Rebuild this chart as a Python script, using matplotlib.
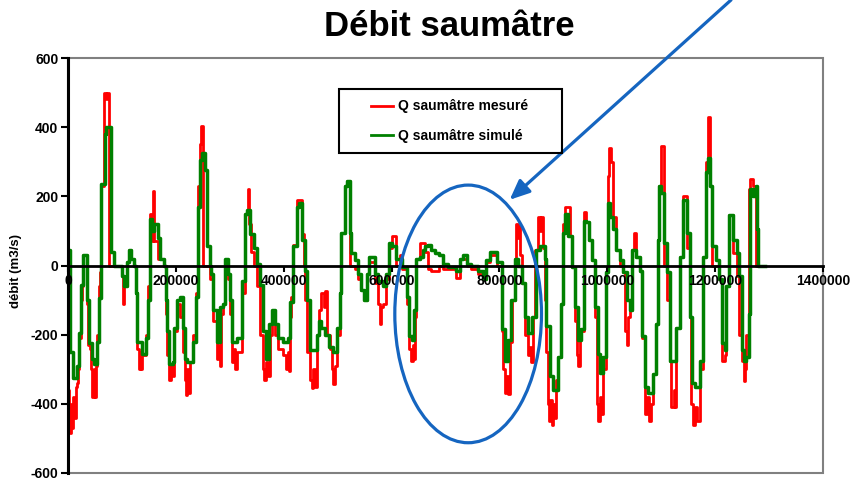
import numpy as np
import matplotlib
matplotlib.use('Agg')
import matplotlib.pyplot as plt
from matplotlib.patches import Rectangle, Ellipse
from matplotlib.lines import Line2D

plt.rcParams['font.family'] = ['Liberation Sans', 'DejaVu Sans']
plt.rcParams['font.weight'] = 'bold'
plt.rcParams['axes.unicode_minus'] = False

RED = '#FF0000'
GREEN = '#008000'
BLUE = '#1565C0'

# débit simulé : paliers (temps en milliers de s, débit m3/s)
sim_t = [0, 3, 9, 16, 20, 24, 27, 35, 39, 45, 49, 54, 57, 62, 68, 71, 79, 85,
         100, 104, 110, 113, 116, 122, 126, 128, 137, 144, 148, 152, 156, 160,
         166, 170, 178, 181, 184, 188, 194, 197, 203, 208, 214, 217, 220, 232,
         237, 241, 245, 248, 254, 257, 263, 266, 269, 276, 282, 287, 291, 297,
         300, 305, 313, 322, 328, 331, 337, 344, 350, 356, 361, 367, 373, 378,
         384, 390, 399, 408, 411, 417, 425, 429, 433, 439, 444, 449, 461, 466,
         470, 476, 484, 492, 498, 504, 507, 513, 518, 522, 525, 532, 538, 544,
         548, 554, 559, 569, 575, 584, 590, 595, 600, 609, 620, 629, 633, 637,
         641, 646, 652, 658, 662, 668, 674, 680, 688, 696, 705, 720, 727, 733,
         739, 748, 761, 770, 776, 782, 795, 804, 810, 816, 822, 829, 835, 841,
         847, 853, 860, 867, 875, 884, 886, 893, 900, 909, 915, 918, 921, 927,
         934, 940, 946, 952, 956, 960, 966, 971, 977, 983, 986, 992, 998, 1002,
         1005, 1011, 1017, 1023, 1029, 1036, 1042, 1045, 1054, 1060, 1065, 1070,
         1076, 1085, 1090, 1094, 1096, 1099, 1105, 1110, 1116, 1128, 1134, 1141,
         1147, 1153, 1158, 1162, 1172, 1178, 1183, 1187, 1190, 1195, 1201, 1207,
         1212, 1218, 1221, 1226, 1233, 1240, 1244, 1249, 1253, 1258, 1263, 1265,
         1270, 1275, 1278, 1280, 1292]
sim_q = [45, -250, -325, -290, -195, -55, 30, -100, -225, -270, -285, -220, -95,
         235, 380, 400, 40, 0, -30, -60, 10, 45, 20, 0, -80, -220, -255, -210,
         -100, 135, 100, 120, 80, 20, 0, -100, -190, -285, -280, -180, -100, -90,
         -180, -270, -280, -220, -90, 170, 305, 325, 275, 55, 0, -25, -130, -220,
         -120, -110, 20, -25, -100, -220, -210, -45, 150, 160, 90, 50, 5, -55,
         -190, -270, -170, -130, -170, -210, -220, -210, -105, 57, 170, 180, 75,
         -15, -100, -245, -200, -160, -180, -200, -235, -250, -180, -80, 95, 230,
         245, 95, 35, 15, -25, -70, -100, -25, 25, -25, -45, -60, -25, 65, 55,
         20, -5, -90, -205, -215, -130, 20, 25, 45, 55, 60, 45, 35, 30, 5, -5,
         -15, 20, 30, 5, 0, -15, -40, 15, 40, 10, -185, -275, -215, -100, 20, 0,
         -50, -150, -195, -150, 45, 55, 20, -175, -320, -360, -265, -110, 95,
         150, 85, -5, -120, -215, -185, 130, 125, 75, 15, -120, -255, -310, -265,
         -20, 180, 140, 105, 45, 15, -20, -100, -130, 45, 25, -15, -205, -350,
         -370, -315, -170, 75, 230, 210, 65, -20, -275, -180, 25, 190, 95, -150,
         -340, -350, -275, 25, 270, 310, 230, 55, 15, -40, -225, -245, -60, 145,
         75, 35, -30, -245, -275, -265, -140, 220, 200, 230, 105, 0, 0]

# débit mesuré
mes_t = [0, 1.5, 3, 4.5, 6, 8, 10, 12, 14, 16, 18, 20, 24, 26, 27, 35, 37, 41,
         43, 45, 48, 50, 52, 54, 57, 59, 62, 67, 70, 72, 76, 100, 102, 104, 110,
         113, 116, 122, 126, 128, 131, 133, 135, 137, 144, 148, 152, 155, 157,
         159, 166, 178, 181, 184, 188, 191, 194, 197, 203, 208, 214, 217, 219,
         221, 223, 226, 232, 237, 241, 245, 247, 250, 251, 263, 269, 276, 279,
         281, 283, 287, 291, 297, 300, 305, 308, 310, 313, 322, 328, 333, 336,
         340, 344, 350, 356, 361, 364, 367, 370, 375, 378, 384, 390, 399, 404,
         408, 410, 411, 414, 418, 424, 433, 437, 440, 444, 449, 452, 455, 458,
         461, 466, 470, 474, 477, 480, 485, 489, 492, 495, 498, 504, 507, 513,
         518, 522, 532, 538, 544, 548, 554, 559, 569, 575, 578, 581, 584, 590,
         595, 600, 609, 615, 620, 629, 633, 636, 639, 641, 643, 646, 652, 662,
         668, 674, 688, 696, 720, 727, 739, 748, 760, 770, 776, 782, 795, 804,
         807, 810, 813, 816, 820, 823, 829, 831, 834, 836, 838, 841, 847, 853,
         856, 858, 862, 866, 872, 875, 878, 880, 884, 886, 890, 892, 894, 897,
         900, 903, 905, 909, 915, 918, 921, 930, 934, 940, 943, 946, 949, 956,
         960, 966, 971, 977, 980, 983, 986, 989, 992, 998, 1002, 1004, 1007,
         1010, 1017, 1023, 1029, 1033, 1036, 1039, 1042, 1045, 1050, 1054, 1060,
         1065, 1070, 1074, 1077, 1081, 1085, 1090, 1094, 1096, 1100, 1105, 1110,
         1116, 1119, 1123, 1126, 1128, 1134, 1140, 1147, 1153, 1156, 1159, 1162,
         1166, 1171, 1178, 1183, 1187, 1190, 1195, 1207, 1212, 1218, 1221, 1226,
         1233, 1240, 1244, 1249, 1253, 1256, 1258, 1263, 1265, 1270, 1275, 1278]
mes_q = [-360, -470, -420, -485, -400, -470, -380, -440, -350, -340, -300, -210,
         -100, -60, 30, -110, -230, -240, -300, -380, -300, -380, -290, -200,
         -60, -20, 230, 500, 480, 500, 0, -30, -110, -60, 10, 45, 20, 0, -80,
         -240, -300, -250, -300, -260, -200, -60, 150, 70, 215, 70, 20, 0, -140,
         -260, -330, -290, -320, -190, -110, -150, -250, -330, -375, -300, -370,
         -280, -200, -80, 230, 350, 404, 330, 0, -40, -160, -270, -230, -290,
         -140, -110, 10, -40, -140, -280, -240, -300, -250, -80, 150, 220, 120,
         40, 0, -60, -200, -300, -330, -280, -320, -200, -150, -200, -240, -260,
         -300, -250, -305, -150, -90, 60, 190, 90, 0, -100, -250, -330, -354,
         -300, -350, -200, -130, -80, -120, -75, -200, -240, -300, -344, -290,
         -200, -80, 95, 230, 245, 0, -10, -40, -70, -100, -25, 10, -50, -110,
         -170, -120, -110, -40, 50, 85, 0, 30, -10, -110, -240, -275, -230,
         -270, -150, 20, 65, 40, -10, -15, 0, -10, -35, 20, 0, -10, -25, -40, 10,
         30, 0, -190, -300, -370, -320, -373, -220, -100, 20, 120, 80, 115, 30,
         -50, -200, -260, -236, -280, -150, 45, 140, 100, 140, 50, -100, -250,
         -400, -450, -390, -460, -400, -440, -330, -265, -110, 120, 170, 85, -5,
         -160, -260, -290, -190, 155, 125, 75, 15, -150, -400, -450, -380, -430,
         -300, -20, 260, 340, 300, 140, 45, 0, -20, -190, -230, -150, -130, 45,
         95, 25, -15, -210, -430, -380, -450, -400, -315, -170, 75, 230, 345, 0,
         -100, -275, -410, -360, -410, -180, 25, 200, 50, -150, -400, -460, -410,
         -450, -300, 25, 300, 430, 230, 0, -40, -275, -260, -60, 145, 35, -30,
         -200, -275, -335, -300, -200, 220, 250, 230, 0, 0]

x_ticks = [0, 200000, 400000, 600000, 800000, 1000000, 1200000, 1400000]
y_ticks = [-600, -400, -200, 0, 200, 400, 600]
labels = ['Q saumâtre mesuré', 'Q saumâtre simulé']

fig = plt.figure(figsize=(8.52, 4.78), dpi=100)
ax = fig.add_axes([68 / 852, 5 / 478, 755 / 852, 415 / 478])

ax.step(np.array(mes_t) * 1000, mes_q, where='post', color=RED, lw=2.0, zorder=2)
ax.step(np.array(sim_t) * 1000, sim_q, where='post', color=GREEN, lw=2.5, zorder=2.1)

ax.set_xlim(0, 1400000)
ax.set_ylim(-600, 600)
ax.set_xticks(x_ticks)
ax.set_xticklabels([str(v) for v in x_ticks])
ax.set_yticks(y_ticks)

# cadre gris de la zone de tracé, axe des x sur la ligne zéro
ax.add_patch(Rectangle((0, 0), 1, 1, transform=ax.transAxes, fill=False,
                       edgecolor='#808080', lw=1.5, clip_on=False, zorder=0.5))
ax.spines['top'].set_visible(False)
ax.spines['right'].set_visible(False)
ax.spines['bottom'].set_position(('data', 0))
ax.spines['bottom'].set_linewidth(2)
ax.spines['left'].set_linewidth(2.2)
ax.set_axisbelow(False)
ax.tick_params(axis='x', direction='out', length=4, width=1.5, labelsize=10, pad=2)
ax.tick_params(axis='y', direction='out', length=5, width=1.5, labelsize=10, pad=2)

# ellipse + flèche
ax.add_patch(Ellipse((742000, -140), 272000, 745, fill=False, edgecolor=BLUE,
                     lw=2.3, zorder=4))
ax.annotate('', xy=(819000, 190), xycoords='data',
            xytext=(731 / 852, 1.0), textcoords='figure fraction',
            arrowprops=dict(arrowstyle='-|>,head_length=0.8,head_width=0.35',
                            color=BLUE, lw=2.3, shrinkA=0, shrinkB=0,
                            mutation_scale=15),
            annotation_clip=False, zorder=5)

handles = [Line2D([], [], color=RED, lw=2), Line2D([], [], color=GREEN, lw=2)]
ax.legend(handles, labels, loc='center left',
          bbox_to_anchor=(371 / 852, 1 - 121 / 478), bbox_transform=fig.transFigure,
          frameon=False, borderpad=0, borderaxespad=0, handlelength=1.6,
          handletextpad=0.35, labelspacing=1.1, prop={'size': 10, 'weight': 'bold'})
fig.add_artist(Rectangle((339 / 852, 1 - 153 / 478), 223 / 852, 64 / 478,
                         transform=fig.transFigure, fill=False, edgecolor='black',
                         lw=1.5))

fig.text(449 / 852, 1 - 27 / 478, 'Débit saumâtre', ha='center', va='center',
         fontsize=25, fontweight='bold')
fig.text(16 / 852, 1 - 271 / 478, 'débit (m3/s)', rotation=90, ha='center',
         va='center', fontsize=9.5, fontweight='bold')

fig.savefig('out.png', dpi=100)
